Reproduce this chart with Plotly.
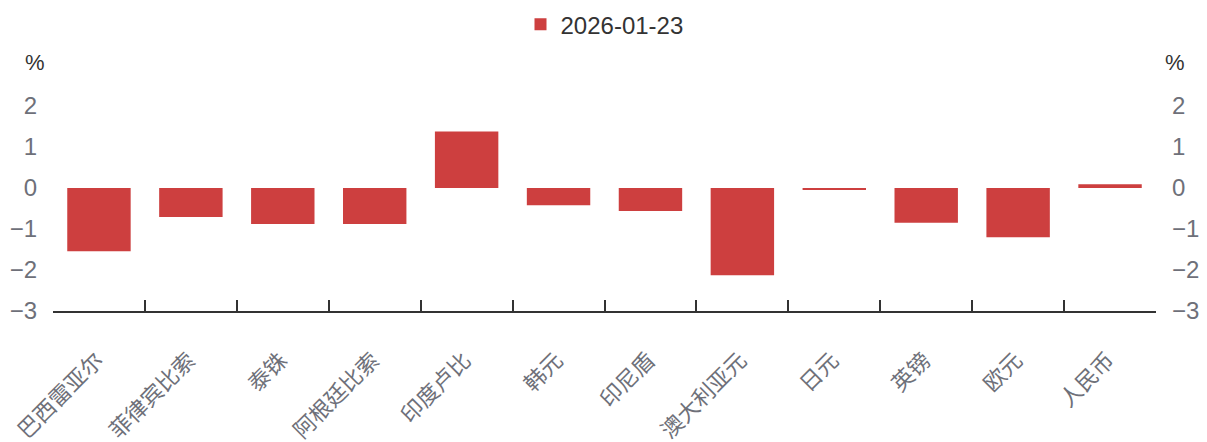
import plotly.graph_objects as go

categories = ["巴西雷亚尔", "菲律宾比索", "泰铢", "阿根廷比索", "印度卢比", "韩元",
              "印尼盾", "澳大利亚元", "日元", "英镑", "欧元", "人民币"]
values = [-1.54, -0.71, -0.88, -0.88, 1.38, -0.42, -0.56, -2.13, -0.04, -0.85, -1.20, 0.09]
series_name = "2026-01-23"
y_ticks = [-3, -2, -1, 0, 1, 2]
y_tick_text = ["−3", "−2", "−1", "0", "1", "2"]

n = len(categories)
positions = list(range(n))
boundaries = [-0.4995] + [i + 0.5 for i in range(n - 1)] + [n - 0.5005]

BAR = "#CD3F3F"
TICK = "#6E7079"
FONT = "Liberation Sans, Noto Sans CJK SC, sans-serif"

fig = go.Figure()
fig.add_trace(go.Bar(x=categories, y=values, name=series_name,
                     marker=dict(color=BAR, line=dict(width=0)),
                     showlegend=True))
# invisible helper trace carrying the right-hand axis and the boundary tick axis
fig.add_trace(go.Scatter(x=positions, y=values, xaxis="x2", yaxis="y2", mode="markers",
                         marker=dict(opacity=0), showlegend=False, hoverinfo="skip"))

fig.update_layout(
    width=1207, height=442,
    margin=dict(l=53, r=51, t=106, b=131, autoexpand=False),
    paper_bgcolor="white", plot_bgcolor="white",
    font=dict(family=FONT, size=22, color=TICK),
    bargap=0.31,
    showlegend=True,
    legend=dict(orientation="h", x=0.5, xanchor="center", y=0.995, yref="container",
                yanchor="top", font=dict(size=24, color="#333333"),
                itemsizing="constant"),
    xaxis=dict(type="category", range=[-0.5, n - 0.5],
               ticks="", showline=True, linecolor="#333333", linewidth=1.5,
               tickangle=-45, showgrid=False, zeroline=False, automargin=False,
               ticklabelstandoff=26, ticklabelshift=-2,
               tickfont=dict(size=22, color=TICK)),
    xaxis2=dict(type="linear", range=[-0.5, n - 0.5], overlaying="x", side="bottom",
                anchor="y2", tickvals=boundaries, ticks="inside", ticklen=11,
                tickcolor="#333333", tickwidth=1.5, showticklabels=False,
                showline=False, showgrid=False, zeroline=False, automargin=False),
    yaxis=dict(range=[-3, 2], tickvals=y_ticks, ticktext=y_tick_text,
               showgrid=False, zeroline=False, showline=False, ticks="",
               automargin=False,
               tickfont=dict(size=24, color=TICK), ticklabelstandoff=15),
    yaxis2=dict(range=[-3, 2], tickvals=y_ticks, ticktext=y_tick_text,
                overlaying="y", side="right", showgrid=False, zeroline=False,
                showline=False, ticks="", automargin=False,
                tickfont=dict(size=24, color=TICK), ticklabelstandoff=15),
    annotations=[
        dict(text="%", xref="paper", yref="paper", x=-0.0163, y=1.21, xanchor="center",
             yanchor="middle", showarrow=False, font=dict(size=22, color="#333333")),
        dict(text="%", xref="paper", yref="paper", x=1.017, y=1.21, xanchor="center",
             yanchor="middle", showarrow=False, font=dict(size=22, color="#333333")),
    ],
)

fig.write_html("out.html", config={"displayModeBar": False},
               post_script="document.body.style.margin='0';")
